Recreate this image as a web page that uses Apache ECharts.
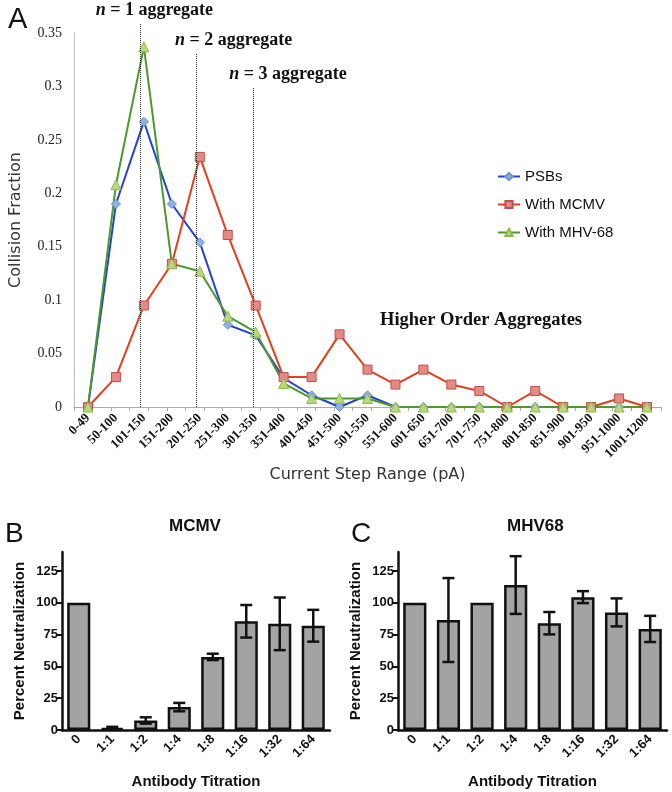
<!DOCTYPE html>
<html>
<head>
<meta charset="utf-8">
<script src="https://cdn.jsdelivr.net/npm/echarts@6/dist/echarts.min.js"></script>
<style>
  html, body { margin: 0; padding: 0; background: #fff; }
  #chart { width: 672px; height: 792px; }
</style>
</head>
<body>
<div id="chart"></div>
<script>
// panel A: collision fraction per current step range
var stepRanges = ['0-49', '50-100', '101-150', '151-200', '201-250', '251-300', '301-350',
  '351-400', '401-450', '451-500', '501-550', '551-600', '601-650', '651-700', '701-750',
  '751-800', '801-850', '851-900', '901-950', '951-1000', '1001-1200']
var psbs = [0, 0.19, 0.267, 0.19, 0.154, 0.077, 0.067, 0.027, 0.011, 0, 0.011, 0,
  0, 0, 0, 0, 0, 0, 0, 0, 0]
var withMcmv = [0, 0.028, 0.095, 0.134, 0.234, 0.161, 0.095, 0.028, 0.028, 0.068, 0.035, 0.021,
  0.035, 0.021, 0.015, 0, 0.015, 0, 0, 0.008, 0]
var withMhv68 = [0, 0.208, 0.337, 0.134, 0.127, 0.085, 0.07, 0.022, 0.008, 0.008, 0.008, 0,
  0, 0, 0, 0, 0, 0, 0, 0, 0]
var fractionTicks = [0, 0.35]
// dotted n-aggregate markers
var aggregateCats = ['101-150', '201-250', '301-350']
var aggregateTops = [0.359, 0.331, 0.2985]
var aggregateN = ['1', '2', '3']

// panels B and C: neutralization
var titrations = ['0', '1:1', '1:2', '1:4', '1:8', '1:16', '1:32', '1:64']
var mcmvMean = [100, 1.5, 7.5, 18, 57.5, 85.5, 83.5, 82]
var mcmvErr = [0, 1, 2.5, 3.3, 2.5, 12.8, 20.7, 12.5]
var mhv68Mean = [100, 86.5, 100, 114, 84, 104.5, 92.5, 79.5]
var mhv68Err = [0, 33, 0, 22.7, 8.8, 4.7, 11, 10.3]
var percentTicks = [0, 25, 50, 75, 100, 125]

var serif = '"Liberation Serif", "Times New Roman", serif'
var sans = '"Liberation Sans", Arial, sans-serif'
var gothic = '"DejaVu Sans", sans-serif'

function errorData(mean, err) {
  var out = []
  mean.forEach(function (m, i) {
    if (err[i] > 0) out.push([i, m + err[i], m - err[i]])
  })
  return out
}

function renderError(params, api) {
  var top = api.coord([api.value(0), api.value(1)])
  var bot = api.coord([api.value(0), api.value(2)])
  var half = 6
  var style = { stroke: '#111', lineWidth: 2.5, fill: null }
  return {
    type: 'group',
    children: [
      { type: 'line', shape: { x1: top[0], y1: top[1], x2: bot[0], y2: bot[1] }, style: style },
      { type: 'line', shape: { x1: top[0] - half, y1: top[1], x2: top[0] + half, y2: top[1] }, style: style },
      { type: 'line', shape: { x1: bot[0] - half, y1: bot[1], x2: bot[0] + half, y2: bot[1] }, style: style }
    ]
  }
}

function barXAxis(grid) {
  return {
    type: 'category', gridIndex: grid, data: titrations,
    axisLine: { lineStyle: { color: '#111', width: 2.5 } },
    axisTick: { show: false },
    axisLabel: { rotate: 45, margin: 7, color: '#111', fontFamily: sans, fontWeight: 'bold', fontSize: 13 },
    name: 'Antibody Titration', nameLocation: 'middle', nameGap: 44,
    nameTextStyle: { color: '#111', fontFamily: sans, fontWeight: 'bold', fontSize: 15 }
  }
}

function barYAxis(grid) {
  return {
    type: 'value', gridIndex: grid, min: 0, max: 140, interval: 25,
    splitLine: { show: false },
    axisLine: { show: true, lineStyle: { color: '#111', width: 2.5 } },
    axisTick: { show: true, length: 5, customValues: percentTicks, lineStyle: { color: '#111', width: 2 } },
    axisLabel: { margin: 4, customValues: percentTicks, color: '#111', fontFamily: sans, fontWeight: 'bold', fontSize: 13 },
    name: 'Percent Neutralization', nameLocation: 'middle', nameGap: 35,
    nameTextStyle: { color: '#111', fontFamily: sans, fontWeight: 'bold', fontSize: 15 }
  }
}

function lineSeries(name, data, symbol, lineColor, fill, border) {
  return {
    name: name, type: 'line', xAxisIndex: 0, yAxisIndex: 0, data: data,
    symbol: symbol, symbolSize: symbol === 'triangle' ? 10 : 9,
    lineStyle: { color: lineColor, width: 2 },
    itemStyle: { color: fill, borderColor: border, borderWidth: 1 }
  }
}

var chart = echarts.init(document.getElementById('chart'))
chart.setOption({
  animation: false,
  title: [
    { text: 'A', left: 3, top: 0, textStyle: { fontFamily: sans, fontWeight: 'normal', fontSize: 29, color: '#111' } },
    { text: 'Higher Order Aggregates', left: 375, top: 306, textStyle: { fontFamily: serif, fontWeight: 'bold', fontSize: 18.5, color: '#111' } },
    { text: 'B', left: 0, top: 515, textStyle: { fontFamily: sans, fontWeight: 'normal', fontSize: 28, color: '#111' } },
    { text: 'MCMV', left: 164, top: 513, textStyle: { fontFamily: sans, fontWeight: 'bold', fontSize: 17, color: '#111' } },
    { text: 'C', left: 346, top: 515, textStyle: { fontFamily: sans, fontWeight: 'normal', fontSize: 28, color: '#111' } },
    { text: 'MHV68', left: 502, top: 513, textStyle: { fontFamily: sans, fontWeight: 'bold', fontSize: 17, color: '#111' } }
  ],
  legend: {
    data: ['PSBs', 'With MCMV', 'With MHV-68'],
    orient: 'vertical', left: 492, top: 164, itemWidth: 22, itemHeight: 9, itemGap: 13,
    textStyle: { fontFamily: sans, fontSize: 15, color: '#111' }
  },
  grid: [
    { left: 70, right: 11, top: 33, bottom: 385 },
    { left: 70, right: 11, top: 22, bottom: 385 },
    { left: 62, right: 342, top: 552, bottom: 62 },
    { left: 398, right: 5, top: 552, bottom: 62 }
  ],
  xAxis: [
    {
      type: 'category', gridIndex: 0, data: stepRanges,
      axisLine: { lineStyle: { color: '#aaa' } },
      axisTick: { show: false },
      axisLabel: { rotate: 45, margin: 9, interval: 0, color: '#111', fontFamily: serif, fontWeight: 'bold', fontSize: 13 },
      name: 'Current Step Range (pA)', nameLocation: 'middle', nameGap: 60,
      nameTextStyle: { color: '#333', fontFamily: gothic, fontSize: 16 }
    },
    { type: 'category', gridIndex: 1, data: stepRanges, show: false },
    {
      type: 'value', gridIndex: 0, position: 'bottom', min: 0, max: 31.6, interval: 1,
      axisLine: { show: false }, axisLabel: { show: false }, splitLine: { show: false },
      axisTick: { show: true, length: 4, lineStyle: { color: '#aaa' } }
    },
    barXAxis(2),
    barXAxis(3)
  ],
  yAxis: [
    {
      type: 'value', gridIndex: 0, min: fractionTicks[0], max: fractionTicks[1], interval: 0.05,
      splitLine: { show: false },
      axisLine: { show: true, lineStyle: { color: '#bbb' } },
      axisTick: { show: false },
      axisLabel: { margin: 12, color: '#222', fontFamily: serif, fontSize: 14 },
      name: 'Collision Fraction', nameLocation: 'middle', nameGap: 50,
      nameTextStyle: { color: '#333', fontFamily: gothic, fontSize: 16 }
    },
    { type: 'value', gridIndex: 1, min: 0, max: 0.36, show: false },
    barYAxis(2),
    barYAxis(3)
  ],
  series: [
    {
      type: 'line', xAxisIndex: 1, yAxisIndex: 1, data: [], silent: true,
      markLine: {
        silent: true, symbol: ['none', 'none'],
        lineStyle: { color: '#333', type: 'dotted', width: 1 },
        label: {
          show: true, position: 'end', distance: 4, color: '#111',
          fontFamily: serif, fontWeight: 'bold', fontSize: 18,
          rich: { i: { fontStyle: 'italic', fontWeight: 'bold', fontFamily: serif, fontSize: 18, color: '#111' } }
        },
        data: aggregateCats.map(function (c, k) {
          var pad = [28, 74, 70][k]
          return [
            { coord: [c, 0] },
            { coord: [c, aggregateTops[k]], label: { padding: [0, 0, 0, pad], formatter: '{i|n} = ' + aggregateN[k] + ' aggregate' } }
          ]
        })
      }
    },
    lineSeries('PSBs', psbs, 'diamond', '#2342d6', '#8fb0e8', '#6f8fd0'),
    lineSeries('With MCMV', withMcmv, 'rect', '#e2401c', '#e38a86', '#c0504d'),
    lineSeries('With MHV-68', withMhv68, 'triangle', '#4b9a2c', '#b9d87a', '#8fb84c'),
    {
      type: 'bar', xAxisIndex: 3, yAxisIndex: 2, data: mcmvMean, barCategoryGap: '31%',
      itemStyle: { color: '#a3a3a3', borderColor: '#111', borderWidth: 2.5 }
    },
    {
      type: 'custom', xAxisIndex: 3, yAxisIndex: 2, data: errorData(mcmvMean, mcmvErr),
      renderItem: renderError, z: 5
    },
    {
      type: 'bar', xAxisIndex: 4, yAxisIndex: 3, data: mhv68Mean, barCategoryGap: '31%',
      itemStyle: { color: '#a3a3a3', borderColor: '#111', borderWidth: 2.5 }
    },
    {
      type: 'custom', xAxisIndex: 4, yAxisIndex: 3, data: errorData(mhv68Mean, mhv68Err),
      renderItem: renderError, z: 5
    }
  ]
})
</script>
</body>
</html>
